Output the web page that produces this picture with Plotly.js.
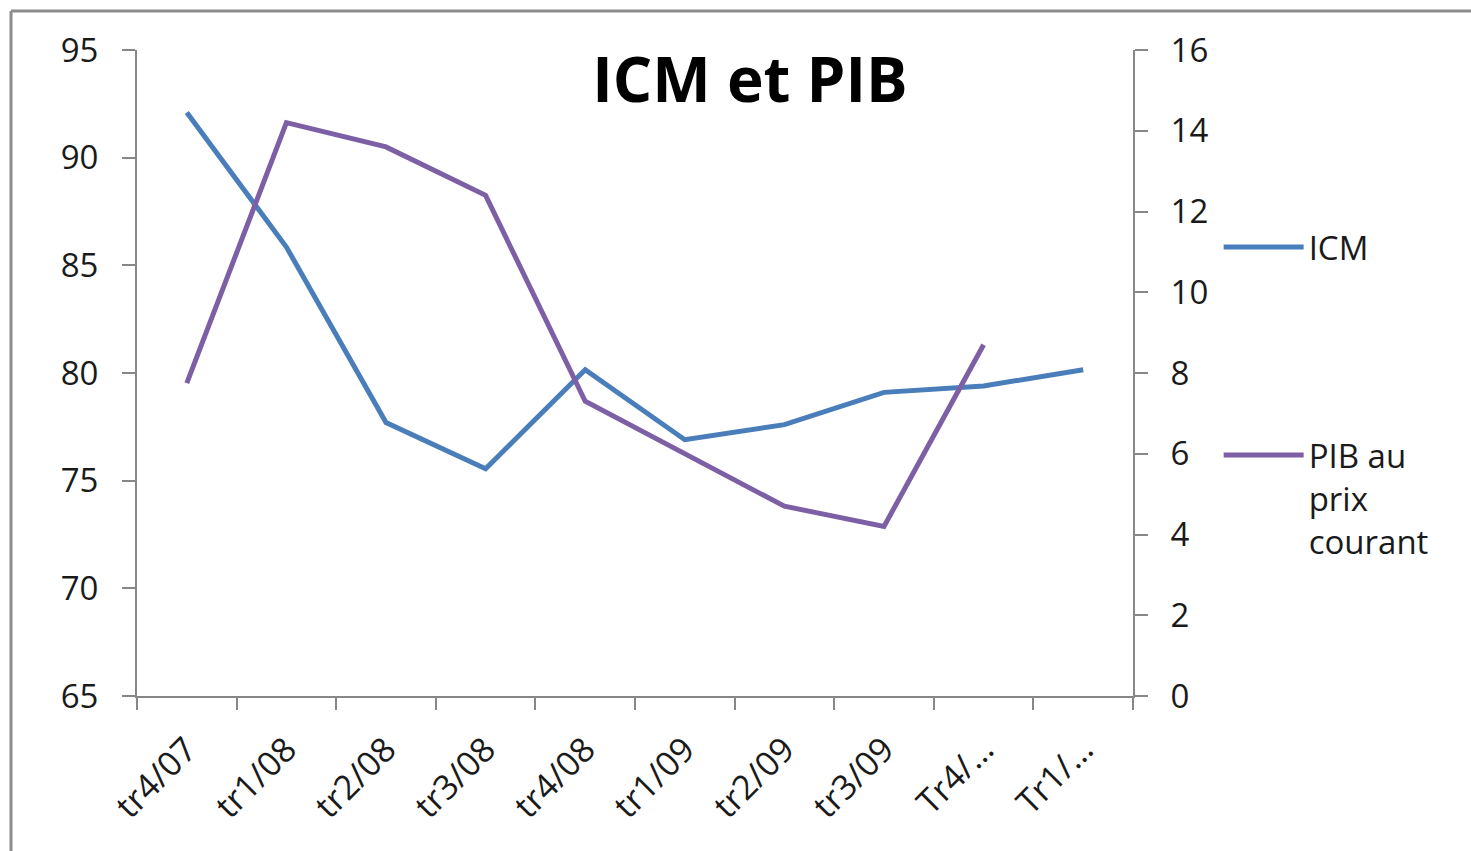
<!DOCTYPE html>
<html>
<head>
<meta charset="utf-8">
<script src="https://cdn.plot.ly/plotly-3.0.1.min.js"></script>
<style>
  body { margin: 0; background: #fff; }
  #plot { width: 1471px; height: 851px; }
</style>
</head>
<body>
<div id="plot"></div>
<script>
// catégories (trimestres)
const trimestres = ['tr4/07', 'tr1/08', 'tr2/08', 'tr3/08', 'tr4/08', 'tr1/09', 'tr2/09', 'tr3/09', 'Tr4/…', 'Tr1/…'];
// ICM (axe gauche)
const icm = [92.1, 85.85, 77.7, 75.55, 80.15, 76.9, 77.6, 79.1, 79.4, 80.15];
// PIB au prix courant (axe droit)
const pib = [7.75, 14.2, 13.6, 12.4, 7.3, 6.0, 4.7, 4.2, 8.7, null];

const gris = '#878787';
const police = { family: 'Open Sans, sans-serif', size: 33, color: '#1a1a1a' };

const traceICM = {
  x: trimestres, y: icm, name: 'ICM', type: 'scatter', mode: 'lines',
  line: { color: '#4a7ebb', width: 5 }, legend: 'legend'
};
const tracePIB = {
  x: trimestres, y: pib, name: 'PIB au<br>prix<br>courant', type: 'scatter', mode: 'lines',
  line: { color: '#7d5fa5', width: 5 }, yaxis: 'y2', legend: 'legend2', connectgaps: false
};

const layout = {
  width: 1471, height: 851,
  margin: { l: 137, r: 338, t: 50, b: 155 },
  paper_bgcolor: '#fff', plot_bgcolor: '#fff',
  font: police,
  title: {
    text: '<b>ICM et PIB</b>',
    font: { family: 'Open Sans, sans-serif', size: 62, color: '#000' },
    x: 750 / 1471, xanchor: 'center', y: 1 - 80 / 851, yanchor: 'middle'
  },
  xaxis: {
    type: 'category', range: [-0.5, 9.5], tickson: 'boundaries', ticks: 'outside', ticklen: 12, tickwidth: 2, tickcolor: gris,
    showline: true, linecolor: gris, linewidth: 2, showgrid: false, zeroline: false,
    tickangle: -45, ticklabelstandoff: 18, tickfont: { family: 'Open Sans, sans-serif', size: 34, color: '#1a1a1a' }, fixedrange: true
  },
  yaxis: {
    range: [65, 95], dtick: 5, ticks: 'outside', ticklen: 13, tickwidth: 2, tickcolor: gris,
    showline: true, linecolor: gris, linewidth: 2, showgrid: false, zeroline: false,
    ticklabelstandoff: 17, tickfont: police
  },
  yaxis2: {
    range: [0, 16], dtick: 2, overlaying: 'y', side: 'right', ticks: 'outside', ticklen: 13, tickwidth: 2, tickcolor: gris,
    showline: true, linecolor: gris, linewidth: 2, showgrid: false, zeroline: false,
    ticklabelstandoff: 16, tickfont: police
  },
  legend: {
    x: 1.086, xanchor: 'left', y: (696 - 247) / 646, yanchor: 'middle',
    font: police, bgcolor: 'rgba(0,0,0,0)', itemwidth: 80
  },
  legend2: {
    x: 1.086, xanchor: 'left', y: (696 - 427) / 646, yanchor: 'top',
    font: police, bgcolor: 'rgba(0,0,0,0)', valign: 'top', itemwidth: 80
  },
  showlegend: true,
  shapes: [
    { type: 'line', xref: 'paper', yref: 'paper', x0: -0.1265, x1: 1.5, y0: 1.0604, y1: 1.0604, line: { color: '#8c8c8c', width: 3 } },
    { type: 'line', xref: 'paper', yref: 'paper', x0: -0.1265, x1: -0.1265, y0: 1.0604, y1: -0.4, line: { color: '#8c8c8c', width: 3 } }
  ]
};

Plotly.newPlot('plot', [traceICM, tracePIB], layout, { displayModeBar: false, staticPlot: true });
</script>
</body>
</html>
